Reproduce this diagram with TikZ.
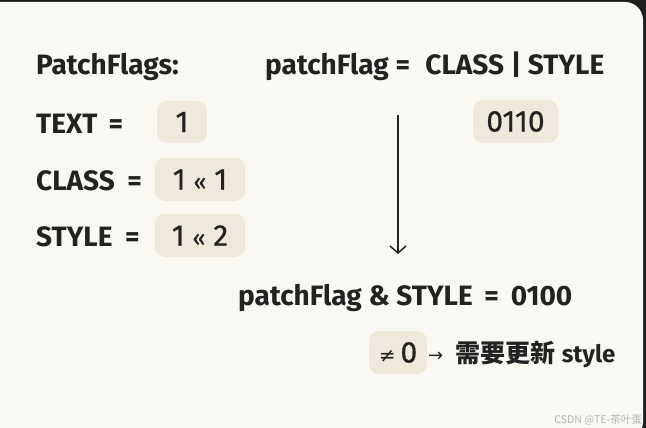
\documentclass[tikz,border=0pt]{standalone}
\usepackage{fontspec}
\setmainfont{Fira Sans}
\newfontfamily\cjk{Noto Sans CJK SC}
\newfontfamily\symf{DejaVu Sans}
\newfontfamily\chipfont[FakeBold=0.5]{Fira Sans}
\usetikzlibrary{arrows.meta}
\definecolor{bgdark}{HTML}{1E1E1E}
\definecolor{card}{HTML}{FAF8F3}
\definecolor{chip}{HTML}{EFE9DC}
\definecolor{ink}{HTML}{222222}
\definecolor{wm}{HTML}{B4B4B4}
\tikzset{
  lbl/.style={anchor=base west, inner sep=0pt, text=ink, font=\fontsize{28}{32}\selectfont\bfseries},
  chipbox/.style={fill=chip, rounded corners=10pt, inner sep=0pt, text=ink, font=\chipfont\fontsize{30}{34}\selectfont},
}
\newcommand{\gap}{\hspace{0.55em}}
\newcommand{\gapb}{\hspace{0.42em}}
\begin{document}
\begin{tikzpicture}[x=1pt,y=-1pt]
\useasboundingbox (0,0) rectangle (646,428);
\fill[bgdark] (0,0) rectangle (646,428);
\fill[card, rounded corners=18pt] (-20,2) rectangle (643,440);
\node[lbl] (pf) at (36,75) {PatchFlags:};
\node[lbl] (eq) at (265,75) {patchFlag =\gap CLASS | STYLE};
\node[lbl] (text) at (36,133) {TEXT\hspace{0.4em}=};
\node[lbl] (class) at (36,190) {CLASS\hspace{0.45em}=};
\node[lbl] (style) at (36,246) {STYLE\hspace{0.45em}=};
\node[chipbox, minimum width=50pt, minimum height=42pt] (c1) at (182,122) {1};
\node[chipbox, minimum width=90pt, minimum height=43pt] (c2) at (200,179.5) {1 {\fontsize{22}{26}\selectfont «} 1};
\node[chipbox, minimum width=90pt, minimum height=43pt] (c3) at (200,235.5) {1 {\fontsize{22}{26}\selectfont «} 2};
\node[chipbox, minimum width=85pt, minimum height=43pt] (c4) at (515.5,121.5) {0110};
\coordinate (a1) at (398,115);
\coordinate (a2) at (398,254);
\draw[ink, line width=1.5pt, -{Straight Barb[length=7pt,width=16pt]}] (a1) -- (a2);
\node[lbl] (res) at (238,305) {patchFlag \& STYLE\gapb=\gapb 0100};
\node[chipbox, minimum width=58pt, minimum height=43pt] (ne) at (398,352.5) {{\symf\fontsize{20}{24}\selectfont ≠}\,0};
\node[lbl, anchor=base west] (arr) at (428,361) {{\symf\mdseries\fontsize{18}{24}\selectfont →}};
\node[lbl] (need) at (455,362) {{\cjk\bfseries\fontsize{25}{30}\selectfont 需要更新} {\fontsize{24}{28}\selectfont style}};
\node[anchor=base east, inner sep=0pt, text=wm, font=\cjk\fontsize{10.5}{12}\selectfont] (wmk) at (642,423) {CSDN @TE-茶叶蛋};
\end{tikzpicture}
\end{document}
